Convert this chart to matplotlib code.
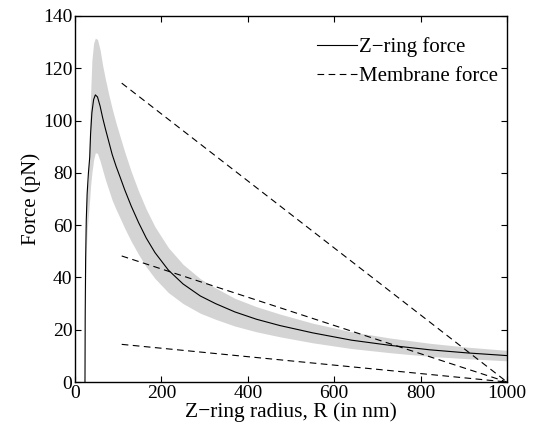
import matplotlib
matplotlib.use('Agg')
import matplotlib.pyplot as plt

plt.rcParams['font.family'] = ['Liberation Serif', 'DejaVu Serif']

# Z-ring force (pN) vs radius R (nm)
radius = [23, 23.5, 24.5, 26, 28, 31, 34, 36, 39, 43, 47, 52, 58, 64, 70, 78, 86, 95,
          104, 115, 130, 147, 165, 185, 216, 250, 290, 325, 370, 420, 474, 550, 640,
          730, 822, 910, 1000]
zring = [0, 25, 47, 62, 72, 80, 86, 95, 103, 108, 109.8, 109, 105.5, 101, 97, 92, 87,
         82.5, 78.5, 73.5, 67.3, 61, 55, 49.5, 42.8, 37.5, 32.9, 30, 26.8, 24, 21.6,
         18.8, 16, 14, 12.3, 11.1, 10.1]
zring_hi = [5, 32, 55, 68, 74, 78, 100, 110, 123, 129.5, 131.5, 131, 127, 121, 116, 110,
            104.5, 99, 94, 88, 80.5, 73, 66, 59.4, 51.4, 45, 39.5, 36, 32, 28.8, 26,
            22.5, 19.2, 16.8, 14.8, 13.3, 12.1]
zring_lo = [0, 15, 35, 50, 58, 64, 70, 75, 80, 85, 87.7, 87.4, 84.5, 81, 77.5, 73.5,
            69.5, 66, 62.8, 58.8, 53.8, 48.8, 44, 39.6, 34.2, 30, 26.3, 24, 21.4, 19.2,
            17.3, 15, 12.8, 11.2, 9.8, 8.9, 8.1]

# membrane force lines (start, end)
memb_x = [108, 1000]
memb_y = [[114.3, 0], [48.2, 0], [14.4, 0]]

fig = plt.figure(figsize=(5.36, 4.30), dpi=100)
ax = fig.add_axes([0.140, 0.1116, 0.806, 0.8514])

ax.fill_between(radius, zring_lo, zring_hi, color='#d4d4d4', lw=0)
ax.plot(radius, zring, color='black', lw=0.8, label='Z\u2212ring force')
for i, ys in enumerate(memb_y):
    ax.plot(memb_x, ys, color='black', lw=0.8, ls=(0, (6, 4)),
            label='Membrane force' if i == 0 else None)

ax.set_xlim(0, 1000)
ax.set_ylim(0, 140)
ax.set_xticks(range(0, 1001, 200))
ax.set_yticks(range(0, 141, 20))
ax.tick_params(direction='in', top=True, right=True, labelsize=14, length=4, pad=2)
for s in ax.spines.values():
    s.set_linewidth(1.0)
ax.set_xlabel('Z\u2212ring radius, R (in nm)', fontsize=15.5, labelpad=0)
ax.set_ylabel('Force (pN)', fontsize=15, labelpad=1)

ax.legend(loc='upper right', bbox_to_anchor=(0.979, 0.942), frameon=False, fontsize=15,
          handlelength=1.9, handletextpad=0.1, labelspacing=0.45,
          borderpad=0, borderaxespad=0)

fig.savefig('out.png', dpi=100)
